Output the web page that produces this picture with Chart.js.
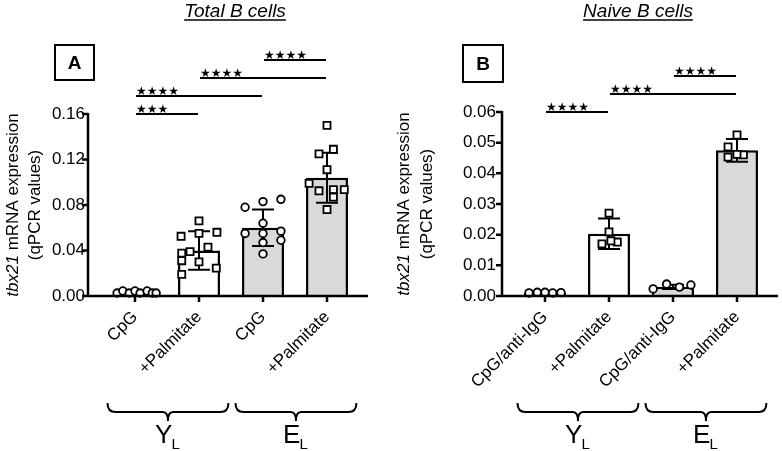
<!DOCTYPE html>
<html>
<head>
<meta charset="utf-8">
<script src="https://cdn.jsdelivr.net/npm/chart.js"></script>
<style>
  body { margin: 0; background: #fff; }
  #wrap { position: relative; width: 782px; height: 451px; }
  canvas { position: absolute; top: 0; }
</style>
</head>
<body>
<div id="wrap">
  <canvas id="chartA" width="391" height="451" style="left:0"></canvas>
  <canvas id="chartB" width="391" height="451" style="left:391px"></canvas>
</div>
<script>
// PANEL A - Total B cells
const labelsA = ['CpG', '+Palmitate', 'CpG', '+Palmitate'];
const meanA = [0.003, 0.040, 0.060, 0.104];
const sdA = [0.001, 0.017, 0.016, 0.022];
const pointsA = [
    [0.0026, 0.0044, 0.0026, 0.0044, 0.0026, 0.0044, 0.0026, 0.0026],
    [0.066, 0.0525, 0.055, 0.056, 0.039, 0.043, 0.0376, 0.031, 0.030, 0.0245, 0.019],
    [0.078, 0.083, 0.085, 0.064, 0.055, 0.057, 0.055, 0.049, 0.047, 0.037],
    [0.150, 0.129, 0.125, 0.111, 0.099, 0.0935, 0.0925, 0.0935, 0.087, 0.076]
];
const jitterA = [
    [-0.28, -0.19, -0.09, 0, 0.08, 0.19, 0.27, 0.33],
    [0, -0.28, 0, 0.28, -0.14, 0.14, -0.27, -0.27, 0, 0.27, -0.27],
    [-0.28, 0, 0.28, 0, -0.28, 0.28, 0, 0.28, 0, 0],
    [0, 0.1, -0.125, 0, -0.28, 0.27, -0.125, 0.1, 0.1, 0]
];
const ticksA = [0, 0.04, 0.08, 0.12, 0.16];
const sigA = [[0, 1, '***'], [0, 2, '****'], [1, 3, '****'], [2, 3, '****']];

// PANEL B - Naive B cells
const labelsB = ['CpG/anti-IgG', '+Palmitate', 'CpG/anti-IgG', '+Palmitate'];
const meanB = [0.001, 0.0203, 0.003, 0.0475];
const sdB = [0.0002, 0.005, 0.0007, 0.0037];
const pointsB = [
    [0.0010, 0.0012, 0.0012, 0.0010, 0.0011],
    [0.027, 0.0209, 0.017, 0.0176, 0.018],
    [0.0023, 0.0039, 0.0029, 0.0036],
    [0.0525, 0.0486, 0.0453, 0.046, 0.0462]
];
const jitterB = [
    [-0.25, -0.12, 0, 0.12, 0.25],
    [0, 0, -0.11, 0.13, 0.03],
    [-0.31, -0.1, 0.1, 0.28],
    [0, -0.14, -0.14, 0.1, 0]
];
const ticksB = [0, 0.01, 0.02, 0.03, 0.04, 0.05, 0.06];
const sigB = [[0, 1, '****'], [1, 3, '****'], [2, 3, '****']];

// groups under the x axis
const groupNames = ['Y', 'E'];
const groupSub = 'L';
const groupSpans = [[0, 1], [2, 3]];

const FONT = "'Liberation Sans', Arial, Helvetica, sans-serif";
Chart.defaults.font.family = FONT;
Chart.defaults.color = '#000';

const barFill = ['#ffffff', '#ffffff', '#d9d9d9', '#d9d9d9'];
const shapes = ['circle', 'rect', 'circle', 'rect'];

function panelPlugin(p) {
    return {
        id: 'panel',
        // error bars, drawn over the bars but under the points
        afterDatasetDraw(chart, args) {
            if (args.index !== 0) return;
            const ctx = chart.ctx, y = chart.scales.y;
            ctx.save();
            ctx.strokeStyle = '#000';
            ctx.lineWidth = 2;
            chart.getDatasetMeta(0).data.forEach((bar, i) => {
                const yt = y.getPixelForValue(p.mean[i] + p.sd[i]);
                const yb = y.getPixelForValue(p.mean[i] - p.sd[i]);
                ctx.beginPath();
                ctx.moveTo(bar.x, yt); ctx.lineTo(bar.x, yb);
                ctx.moveTo(bar.x - 11, yt); ctx.lineTo(bar.x + 11, yt);
                ctx.moveTo(bar.x - 11, yb); ctx.lineTo(bar.x + 11, yb);
                ctx.stroke();
            });
            ctx.restore();
        },
        afterDraw(chart) {
            const ctx = chart.ctx, a = chart.chartArea;
            const x = chart.scales.x, y = chart.scales.y;
            ctx.save();
            ctx.strokeStyle = '#000';
            ctx.fillStyle = '#000';

            // axes
            ctx.lineWidth = 2.5;
            ctx.beginPath();
            ctx.moveTo(p.axisX, a.top - 1); ctx.lineTo(p.axisX, a.bottom);
            ctx.lineTo(p.axisEnd, a.bottom);
            p.ticks.forEach(v => {
                const py = y.getPixelForValue(v);
                ctx.moveTo(p.axisX - 6, py); ctx.lineTo(p.axisX, py);
            });
            for (let i = 0; i < p.labels.length; i++) {
                const px = x.getPixelForValue(i);
                ctx.moveTo(px, a.bottom); ctx.lineTo(px, a.bottom + 6);
            }
            ctx.stroke();

            // significance lines
            ctx.lineWidth = 2;
            ctx.font = 'bold 12px "DejaVu Sans"';
            ctx.textAlign = 'left';
            ctx.textBaseline = 'alphabetic';
            p.sig.forEach(([i, j, s], k) => {
                const ly = a.top - 18 * k;
                const x0 = x.getPixelForValue(i) + 1, x1 = x.getPixelForValue(j) - 1;
                ctx.beginPath();
                ctx.moveTo(x0, ly); ctx.lineTo(x1, ly);
                ctx.stroke();
                ctx.fillText('\u2605'.repeat(s.length), x0, ly - 1);
            });

            // panel title, underlined
            ctx.font = 'italic 19px ' + FONT;
            ctx.textAlign = 'center';
            ctx.fillText(p.title, p.titleX, 17);
            const tw = ctx.measureText(p.title).width;
            ctx.lineWidth = 1.5;
            ctx.beginPath();
            ctx.moveTo(p.titleX - tw / 2, 20); ctx.lineTo(p.titleX + tw / 2, 20);
            ctx.stroke();

            // letter box
            ctx.lineWidth = 2;
            ctx.strokeRect(p.box[0], p.box[1], p.box[2], p.box[3]);
            ctx.font = 'bold 19px ' + FONT;
            ctx.textBaseline = 'middle';
            ctx.fillText(p.letter, p.box[0] + p.box[2] / 2, p.box[1] + p.box[3] / 2 + 1);

            // y axis title (tbx21 in italics)
            const midY = (a.top + a.bottom) / 2;
            ctx.translate(p.yTitle[0], midY);
            ctx.rotate(-Math.PI / 2);
            ctx.textAlign = 'left';
            ctx.font = 'italic 17px ' + FONT;
            const w1 = ctx.measureText('tbx21').width;
            ctx.font = '17px ' + FONT;
            const w2 = ctx.measureText(' mRNA expression').width;
            ctx.font = 'italic 17px ' + FONT;
            ctx.fillText('tbx21', -(w1 + w2) / 2, 0);
            ctx.font = '17px ' + FONT;
            ctx.fillText(' mRNA expression', -(w1 + w2) / 2 + w1, 0);
            ctx.textAlign = 'center';
            ctx.fillText('(qPCR values)', 0, p.yTitle[1] - p.yTitle[0]);
            ctx.setTransform(1, 0, 0, 1, 0, 0);

            // group braces and labels
            const cw = x.getPixelForValue(1) - x.getPixelForValue(0);
            ctx.lineWidth = 2;
            ctx.textBaseline = 'alphabetic';
            groupSpans.forEach(([i, j], g) => {
                const bx0 = x.getPixelForValue(i) - 0.43 * cw;
                const bx1 = x.getPixelForValue(j) + 0.46 * cw;
                const cx = (bx0 + bx1) / 2;
                ctx.beginPath();
                ctx.moveTo(bx0, 403);
                ctx.quadraticCurveTo(bx0, 412, bx0 + 8, 412);
                ctx.lineTo(cx - 5, 412);
                ctx.quadraticCurveTo(cx, 412, cx, 421);
                ctx.quadraticCurveTo(cx, 412, cx + 5, 412);
                ctx.lineTo(bx1 - 8, 412);
                ctx.quadraticCurveTo(bx1, 412, bx1, 403);
                ctx.stroke();
                ctx.font = '26px ' + FONT;
                const wy = ctx.measureText(groupNames[g]).width;
                ctx.font = '15px ' + FONT;
                const wl = ctx.measureText(groupSub).width;
                const sx = cx - (wy + wl) / 2;
                ctx.textAlign = 'left';
                ctx.font = '26px ' + FONT;
                ctx.fillText(groupNames[g], sx, 443);
                ctx.font = '15px ' + FONT;
                ctx.fillText(groupSub, sx + wy - 1, 449);
            });
            ctx.restore();
        }
    };
}

function makePanel(id, p) {
    const datasets = [{
        type: 'bar',
        data: p.mean,
        backgroundColor: barFill,
        borderColor: '#000',
        borderWidth: 2.5,
        borderSkipped: 'bottom',
        grouped: false,
        barPercentage: 0.82,
        categoryPercentage: 0.8,
        xAxisID: 'x',
        yAxisID: 'y',
        order: 2
    }];
    p.points.forEach((vals, g) => {
        datasets.push({
            type: 'scatter',
            data: vals.map((v, k) => ({ x: g + p.jitter[g][k], y: v })),
            pointStyle: shapes[g],
            pointRadius: shapes[g] === 'rect' ? 5 : 3.8,
            pointBackgroundColor: '#fff',
            pointBorderColor: '#000',
            pointBorderWidth: 1.8,
            xAxisID: 'xs',
            yAxisID: 'y',
            clip: false,
            order: 1
        });
    });

    return new Chart(document.getElementById(id), {
        type: 'bar',
        data: { labels: p.labels, datasets },
        options: {
            responsive: false,
            animation: false,
            devicePixelRatio: 1,
            layout: { padding: { top: p.top, right: p.right, left: 0, bottom: 0 } },
            plugins: { legend: { display: false }, tooltip: { enabled: false } },
            scales: {
                x: {
                    type: 'category',
                    offset: true,
                    grid: { display: false, drawTicks: false },
                    border: { display: false },
                    ticks: { autoSkip: false, minRotation: 45, maxRotation: 45, padding: 11, font: { size: 17 } },
                    afterFit: s => { s.height = 451 - p.bottom; }
                },
                xs: {
                    type: 'linear', axis: 'x', position: 'bottom', display: false,
                    offset: false, min: -0.5, max: 3.5
                },
                y: {
                    min: 0,
                    max: p.ticks[p.ticks.length - 1],
                    grid: { display: false, drawTicks: false },
                    border: { display: false },
                    ticks: { padding: p.tickPad, font: { size: 17 }, callback: v => v.toFixed(2) },
                    afterBuildTicks: s => { s.ticks = p.ticks.map(v => ({ value: v })); },
                    afterFit: s => { s.width = p.left; }
                }
            }
        },
        plugins: [panelPlugin(p)]
    });
}

makePanel('chartA', {
    labels: labelsA, mean: meanA, sd: sdA, points: pointsA, jitter: jitterA,
    ticks: ticksA, sig: sigA,
    title: 'Total B cells', titleX: 235, letter: 'A', box: [55, 45, 39, 35],
    left: 103, right: 32, top: 114, bottom: 296, tickPad: 18,
    axisX: 88, axisEnd: 368, yTitle: [13, 35]
});

makePanel('chartB', {
    labels: labelsB, mean: meanB, sd: sdB, points: pointsB, jitter: jitterB,
    ticks: ticksB, sig: sigB,
    title: 'Naive B cells', titleX: 247, letter: 'B', box: [72, 45, 40, 37],
    left: 122, right: 13, top: 112, bottom: 296, tickPad: 17,
    axisX: 111, axisEnd: 387, yTitle: [13, 36]
});
</script>
</body>
</html>
